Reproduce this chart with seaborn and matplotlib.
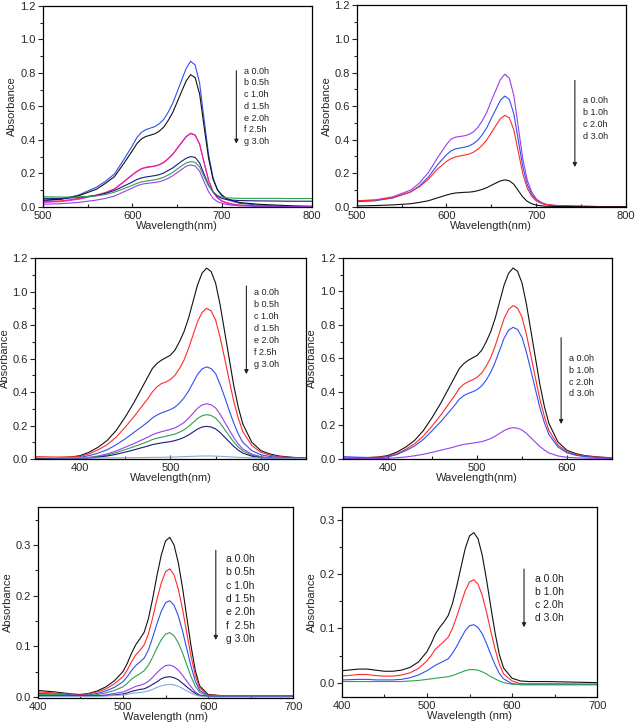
import numpy as np
import pandas as pd
import matplotlib
matplotlib.use('Agg')
import matplotlib.pyplot as plt
import seaborn as sns
from matplotlib.ticker import MultipleLocator, FormatStrFormatter

# ---- data (absorbance vs wavelength, nm) ----
p1_wl = [500,520,540,560,570,580,590,600,605,610,615,620,625,630,635,640,645,650,655,660,665,670,675,680,685,690,695,700,705,710,720,740,760,780,800]
p1_a = [.035,.044,.07,.117,.152,.196,.278,.365,.413,.444,.461,.47,.479,.496,.522,.566,.618,.687,.757,.827,.87,.848,.74,.522,.313,.174,.10,.065,.044,.035,.02,.01,.005,.003,0]
p1_b = [.04,.045,.065,.105,.14,.18,.255,.335,.377,.405,.42,.428,.436,.452,.476,.516,.563,.626,.69,.752,.79,.772,.675,.48,.29,.165,.10,.07,.05,.04,.025,.015,.01,.005,.003]
p1_c = [.03,.035,.048,.07,.085,.107,.148,.192,.212,.228,.236,.24,.244,.252,.266,.288,.315,.35,.385,.42,.44,.43,.375,.265,.16,.09,.055,.035,.025,.018,.01,.005,.002,0,0]
p1_d = [.026,.031,.045,.068,.083,.105,.146,.19,.21,.226,.234,.238,.242,.25,.264,.286,.313,.348,.383,.418,.437,.428,.374,.264,.158,.088,.052,.032,.022,.015,.008,.004,.002,0,0]
p1_e = [.05,.05,.055,.068,.08,.097,.122,.148,.163,.172,.178,.182,.186,.192,.202,.217,.232,.252,.272,.29,.30,.295,.262,.195,.13,.088,.062,.05,.043,.04,.037,.035,.034,.033,.033]
p1_f = [.06,.058,.058,.065,.073,.087,.107,.128,.14,.148,.153,.157,.161,.167,.176,.19,.205,.225,.245,.262,.27,.266,.238,.18,.125,.09,.068,.058,.054,.052,.05,.05,.05,.049,.049]
p1_g = [.015,.018,.026,.04,.05,.064,.088,.112,.125,.134,.139,.142,.145,.15,.158,.17,.185,.204,.223,.242,.25,.244,.213,.15,.09,.05,.03,.02,.014,.01,.006,.003,.001,0,0]

p2_wl = p1_wl
p2_a = [.036,.04,.059,.099,.142,.205,.292,.371,.403,.415,.419,.423,.431,.446,.474,.514,.565,.632,.695,.758,.79,.766,.664,.474,.284,.158,.087,.047,.028,.016,.008,.004,.002,0,0]
p2_b = [.03,.035,.052,.088,.125,.178,.25,.31,.333,.345,.35,.355,.362,.376,.398,.43,.472,.528,.581,.634,.66,.64,.554,.396,.238,.132,.073,.04,.023,.013,.007,.003,.002,0,0]
p2_c = [.035,.04,.054,.088,.12,.165,.225,.27,.287,.297,.303,.308,.314,.325,.343,.368,.40,.442,.484,.525,.545,.53,.458,.328,.197,.11,.062,.035,.022,.014,.008,.004,.002,0,0]
p2_d = [.005,.007,.011,.018,.026,.036,.053,.07,.077,.082,.084,.086,.087,.09,.096,.104,.114,.128,.141,.154,.16,.155,.134,.096,.058,.032,.018,.01,.006,.003,.002,.001,0,0,0]

p3_wl = [350,370,390,400,410,420,430,440,450,460,470,475,480,485,490,495,500,505,510,515,520,525,530,535,540,545,550,555,560,565,570,575,580,590,600,610,620,635,650]
p3_a = [.005,.006,.012,.02,.04,.07,.11,.17,.25,.34,.44,.49,.54,.57,.59,.605,.62,.65,.70,.76,.84,.94,1.04,1.11,1.14,1.12,1.05,.92,.76,.60,.44,.31,.21,.10,.05,.03,.018,.01,.005]
p3_b = [.015,.012,.012,.016,.03,.055,.085,.13,.19,.255,.325,.36,.40,.43,.45,.46,.475,.50,.54,.59,.66,.74,.82,.875,.90,.885,.83,.725,.60,.47,.345,.245,.165,.08,.04,.023,.014,.008,.004]
p3_c = [.005,.005,.007,.01,.02,.035,.055,.085,.12,.16,.20,.22,.245,.262,.275,.285,.295,.31,.333,.365,.405,.455,.505,.538,.55,.54,.51,.445,.37,.29,.215,.15,.10,.05,.025,.015,.01,.008,.006]
p3_d = [0,0,.002,.004,.01,.018,.03,.048,.07,.093,.118,.13,.145,.155,.163,.17,.177,.186,.20,.218,.243,.273,.303,.323,.33,.324,.305,.267,.22,.174,.128,.09,.06,.029,.014,.008,.005,.003,.002]
p3_e = [0,0,.002,.003,.008,.014,.024,.038,.056,.074,.094,.104,.116,.124,.13,.136,.142,.149,.16,.174,.194,.218,.242,.258,.265,.26,.244,.214,.176,.139,.102,.072,.048,.023,.011,.006,.004,.002,.002]
p3_f = [0,0,.001,.002,.006,.011,.018,.028,.041,.055,.07,.077,.086,.091,.096,.10,.104,.11,.118,.129,.143,.161,.179,.191,.195,.191,.18,.158,.13,.103,.076,.053,.035,.017,.008,.005,.003,.002,.001]
p3_g = [.01,.008,.006,.006,.006,.006,.007,.007,.008,.008,.009,.009,.01,.01,.01,.011,.011,.012,.013,.014,.015,.016,.017,.018,.018,.018,.017,.016,.015,.013,.012,.01,.009,.007,.006,.005,.004,.003,.003]

p4_wl = p3_wl
p4_a = [0,.004,.01,.018,.038,.068,.108,.168,.248,.338,.438,.488,.538,.568,.588,.603,.618,.648,.698,.758,.838,.938,1.038,1.108,1.14,1.12,1.05,.92,.76,.60,.44,.31,.21,.10,.05,.03,.018,.01,.005]
p4_b = [.005,.005,.008,.012,.028,.055,.088,.135,.197,.265,.34,.378,.42,.445,.46,.472,.487,.512,.553,.603,.673,.755,.838,.892,.915,.90,.845,.74,.612,.48,.352,.25,.168,.082,.04,.024,.015,.008,.005]
p4_c = [.012,.008,.006,.01,.024,.047,.075,.115,.168,.225,.288,.32,.355,.377,.39,.40,.413,.435,.47,.515,.576,.648,.72,.768,.785,.772,.725,.634,.524,.412,.302,.214,.144,.07,.035,.02,.012,.007,.005]
p4_d = [0,0,.001,.002,.005,.01,.017,.026,.038,.051,.064,.071,.079,.085,.089,.093,.097,.102,.11,.12,.134,.151,.168,.18,.185,.182,.171,.15,.124,.098,.072,.051,.034,.016,.008,.005,.003,.002,.001]

p5_wl = [400,420,440,450,460,470,480,490,500,505,510,515,520,525,530,535,540,545,550,555,560,565,570,575,580,585,590,600,620,650,700]
p5_a = [.013,.01,.006,.005,.007,.012,.02,.032,.05,.066,.086,.103,.115,.128,.155,.195,.24,.28,.308,.315,.30,.265,.215,.157,.10,.052,.022,.005,.002,.002,.002]
p5_b = [.01,.008,.005,.004,.006,.01,.016,.026,.04,.053,.069,.083,.092,.103,.125,.157,.193,.225,.247,.253,.241,.213,.173,.126,.08,.042,.018,.004,.002,.002,.002]
p5_c = [.007,.006,.004,.003,.004,.007,.012,.019,.03,.04,.052,.062,.069,.077,.093,.118,.145,.169,.186,.19,.181,.16,.13,.095,.06,.031,.013,.003,.002,.002,.002]
p5_d = [.005,.005,.003,.002,.003,.005,.008,.013,.02,.027,.035,.041,.046,.052,.063,.079,.097,.113,.124,.127,.121,.107,.087,.063,.04,.021,.009,.002,.002,.002,.002]
p5_e = [.003,.003,.002,.002,.002,.003,.004,.007,.01,.013,.017,.021,.023,.026,.031,.039,.048,.056,.062,.063,.06,.053,.043,.031,.02,.01,.004,.001,.001,.001,.001]
p5_f = [.002,.002,.002,.002,.002,.002,.003,.004,.006,.008,.011,.013,.015,.016,.02,.025,.03,.036,.039,.04,.038,.034,.027,.02,.013,.007,.003,.001,.001,.001,.001]
p5_g = [.001,.001,.001,.001,.001,.001,.002,.003,.004,.005,.007,.008,.009,.01,.012,.015,.019,.022,.024,.025,.024,.021,.017,.012,.008,.004,.002,0,0,0,0]

p6_wl = [400,420,430,440,450,460,470,480,490,500,505,510,515,520,525,530,535,540,545,550,555,560,565,570,575,580,585,590,600,610,620,640,700]
p6_a = [.022,.025,.025,.023,.021,.021,.023,.028,.038,.057,.072,.09,.102,.112,.124,.146,.178,.213,.248,.271,.277,.266,.235,.19,.14,.092,.052,.027,.008,.003,.002,.002,0]
p6_b = [.012,.015,.015,.013,.012,.012,.014,.018,.026,.04,.05,.062,.069,.076,.084,.10,.122,.146,.17,.186,.19,.182,.161,.13,.095,.062,.034,.016,.003,-.002,-.002,-.002,-.003]
p6_c = [.005,.006,.006,.005,.005,.005,.006,.009,.014,.022,.027,.032,.036,.04,.044,.054,.067,.082,.096,.105,.107,.102,.09,.072,.052,.033,.017,.007,-.002,-.004,-.004,-.004,-.004]
p6_d = [.002,.002,.002,.002,.002,.002,.002,.003,.004,.006,.007,.008,.009,.01,.011,.013,.016,.019,.022,.024,.024,.023,.02,.016,.011,.007,.003,0,-.003,-.003,-.003,-.003,-.003]

labels7 = ['a 0.0h', 'b 0.5h', 'c 1.0h', 'd 1.5h', 'e 2.0h', 'f 2.5h', 'g 3.0h']
labels7b = ['a 0.0h', 'b 0.5h', 'c 1.0h', 'd 1.5h', 'e 2.0h', 'f  2.5h', 'g 3.0h']
labels4 = ['a 0.0h', 'b 1.0h', 'c 2.0h', 'd 3.0h']

BLK, RED, BLU, MAG = '#111111', '#ff2a2a', '#3050f0', '#e020d0'
GRN, NAV, VIO, LBL = '#2fa050', '#1a1a80', '#9a3cf0', '#8aa8d8'

sns.set_style('ticks')
plt.rcParams['font.family'] = ['Liberation Sans', 'DejaVu Sans']
plt.rcParams['axes.linewidth'] = 0.9

fig = plt.figure(figsize=(6.37, 7.28), dpi=100)


def panel(rect, wl, curves, colors, xlim, ylim, xmaj, ymaj, xlab, legend, leg_fs):
    ax = fig.add_axes(rect)
    for y, c in zip(curves, colors):
        sns.lineplot(x=wl, y=y, color=c, lw=0.8, ax=ax, estimator=None)
    ax.set_xlim(*xlim)
    ax.set_ylim(*ylim)
    ax.xaxis.set_major_locator(MultipleLocator(xmaj))
    ax.xaxis.set_minor_locator(MultipleLocator(xmaj / 2))
    ax.yaxis.set_major_locator(MultipleLocator(ymaj))
    ax.yaxis.set_minor_locator(MultipleLocator(ymaj / 2))
    ax.yaxis.set_major_formatter(FormatStrFormatter('%.1f'))
    ax.tick_params(axis='x', which='both', direction='in', labelsize=8, pad=3)
    ax.tick_params(axis='x', which='major', length=3, width=0.8)
    ax.tick_params(axis='x', which='minor', length=2, width=0.8)
    ax.tick_params(axis='y', which='major', direction='out', length=3.5, width=0.8, labelsize=8, pad=1.5)
    ax.tick_params(axis='y', which='minor', direction='out', length=2, width=0.8)
    for s in ax.spines.values():
        s.set_visible(True)
        s.set_color('black')
    ax.set_xlabel(xlab, fontsize=8, labelpad=0)
    ax.set_ylabel('Absorbance', fontsize=8, labelpad=2)
    # time arrow with the sample labels
    labels, ax_x, ay0, ay1, tx, ty0, dy = legend
    ax.annotate('', xy=(ax_x, ay1), xytext=(ax_x, ay0),
                arrowprops=dict(arrowstyle='-|>', lw=0.8, color='#222222', mutation_scale=6))
    for i, lab in enumerate(labels):
        ax.text(tx, ty0 - i * dy, lab, fontsize=leg_fs, va='center', ha='left', color='#222222')
    return ax


panel([0.067, 0.716, 0.4223, 0.2757], p1_wl, [p1_a, p1_b, p1_c, p1_d, p1_e, p1_f, p1_g],
      [BLU, BLK, RED, MAG, NAV, GRN, VIO], (500, 800), (0, 1.2), 100, 0.2, 'Wavelength(nm)',
      (labels7, 716, 0.83, 0.36, 725, 0.81, 0.07), 6.5)

panel([0.56, 0.716, 0.4228, 0.2765], p2_wl, [p2_a, p2_b, p2_c, p2_d],
      [VIO, BLU, RED, BLK], (500, 800), (0, 1.2), 100, 0.2, 'Wavelength(nm)',
      (labels4, 743, 0.77, 0.22, 752, 0.632, 0.071), 6.5)

panel([0.0545, 0.3695, 0.426, 0.276], p3_wl, [p3_a, p3_b, p3_c, p3_d, p3_e, p3_f, p3_g],
      [BLK, RED, BLU, VIO, GRN, NAV, LBL], (350, 650), (0, 1.2), 100, 0.2, 'Wavelength(nm)',
      (labels7, 584, 1.05, 0.49, 592, 0.997, 0.0723), 6.5)

panel([0.538, 0.370, 0.4223, 0.2757], p4_wl, [p4_a, p4_b, p4_c, p4_d],
      [BLK, RED, BLU, VIO], (350, 650), (0, 1.2), 100, 0.2, 'Wavelength(nm)',
      (labels4, 593.6, 0.74, 0.19, 602, 0.60, 0.071), 6.5)

panel([0.0592, 0.0412, 0.4013, 0.2624], p5_wl, [p5_a, p5_b, p5_c, p5_d, p5_e, p5_f, p5_g],
      [BLK, RED, BLU, GRN, VIO, NAV, LBL], (400, 700), (-0.002, 0.375), 100, 0.1, 'Wavelength (nm)',
      (labels7b, 609, 0.295, 0.107, 621, 0.272, 0.0262), 7.5)

panel([0.5364, 0.043, 0.4013, 0.261], p6_wl, [p6_a, p6_b, p6_c, p6_d],
      [BLK, RED, BLU, GRN], (400, 700), (-0.026, 0.325), 100, 0.1, 'Wavelength (nm)',
      (labels4, 614, 0.215, 0.097, 627, 0.191, 0.0236), 7.5)

fig.savefig('out.png', dpi=100)
